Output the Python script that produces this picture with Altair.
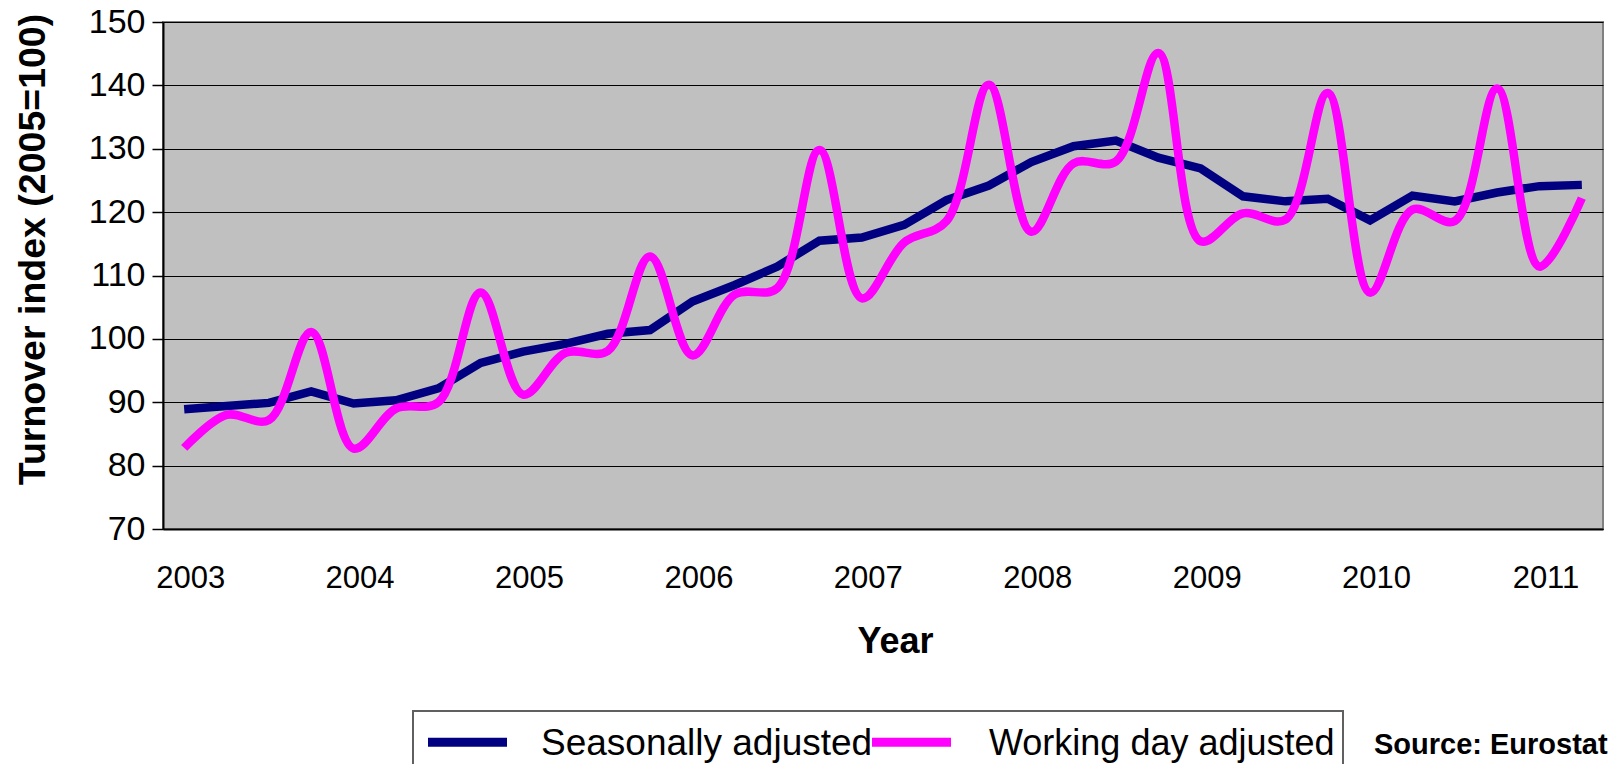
import altair as alt
import pandas as pd

# Quarterly categories, Q1 2003 .. Q2 2011
years = [2003, 2004, 2005, 2006, 2007, 2008, 2009, 2010, 2011]
quarters = [f"{y}Q{q}" for y in years for q in (1, 2, 3, 4)][:34]

seasonally_adjusted = [
    88.9, 89.4, 89.9, 91.7, 89.8, 90.3, 92.2, 96.2, 98.0, 99.2,
    100.8, 101.4, 105.9, 108.5, 111.4, 115.5, 116.0, 118.0, 121.9, 124.2,
    127.9, 130.4, 131.3, 128.6, 126.9, 122.5, 121.7, 122.1, 118.7, 122.6,
    121.7, 123.1, 124.1, 124.3,
]
working_day_adjusted = [
    82.8, 88.0, 87.2, 101.1, 82.7, 89.0, 90.0, 107.3, 91.2, 97.8,
    98.1, 113.0, 97.4, 107.0, 108.0, 129.8, 106.4, 115.2, 118.6, 140.1,
    116.9, 127.7, 128.0, 145.1, 115.4, 119.8, 118.8, 138.8, 107.3, 120.4,
    118.6, 139.5, 111.4, 122.2,
]
series_names = ["Seasonally adjusted", "Working day adjusted"]
series_colors = ["#000080", "#FF00FF"]
y_ticks = [70, 80, 90, 100, 110, 120, 130, 140, 150]
year_ticks = [q for q in quarters if q.endswith("Q1")]
source_text = "Source: Eurostat"

rows = []
for name, vals in zip(series_names, [seasonally_adjusted, working_day_adjusted]):
    for q, v in zip(quarters, vals):
        rows.append({"quarter": q, "series": name, "value": v})
df = pd.DataFrame(rows)

FONT = "Liberation Sans"

x_enc = alt.X(
    "quarter:O",
    sort=quarters,
    scale=alt.Scale(type="point", padding=0.5),
    axis=alt.Axis(
        values=year_ticks,
        labelExpr="slice(datum.label, 0, 4)",
        labelAngle=0,
        labelFontSize=31,
        labelFont=FONT,
        labelColor="black",
        labelBaseline="alphabetic",
        labelPadding=58,
        labelOffset=6,
        ticks=False,
        tickSize=0,
        domain=True,
        domainColor="black",
        domainWidth=2,
        grid=False,
        title="Year",
        titleFont=FONT,
        titleFontSize=36,
        titleFontWeight="bold",
        titleColor="black",
        titleX=732,
        titleY=123,
        titleAlign="center",
        titleBaseline="alphabetic",
        titleAnchor="start",
    ),
)
y_enc = alt.Y(
    "value:Q",
    scale=alt.Scale(domain=[70, 150], nice=False, zero=False),
    axis=alt.Axis(
        values=y_ticks,
        labelFontSize=34,
        labelFont=FONT,
        labelColor="black",
        labelPadding=7,
        tickSize=11,
        tickColor="black",
        tickWidth=1.5,
        domain=True,
        domainColor="black",
        domainWidth=2,
        grid=True,
        gridColor="black",
        gridWidth=1.2,
        title="Turnover index (2005=100)",
        titleFont=FONT,
        titleFontSize=37.5,
        titleFontWeight="bold",
        titleColor="black",
        titleAngle=270,
        titleX=-119,
        titleY=227,
        titleAlign="center",
        titleBaseline="alphabetic",
        titleAnchor="start",
    ),
)
color_enc = alt.Color(
    "series:N",
    scale=alt.Scale(domain=series_names, range=series_colors),
    legend=None,
)

base = alt.Chart(df)
navy = base.transform_filter(alt.datum.series == series_names[0]).mark_line(
    strokeWidth=8.5, interpolate="linear"
).encode(x=x_enc, y=y_enc, color=color_enc)
pink = base.transform_filter(alt.datum.series == series_names[1]).mark_line(
    strokeWidth=8.5, interpolate="catmull-rom"
).encode(x=x_enc, y=y_enc, color=color_enc)

# Legend drawn as a box with swatches and labels below the plot
legend_df = pd.DataFrame({"series": series_names, "color": series_colors})
legend_box = alt.Chart(legend_df.head(1)).mark_rect(
    fill="white", stroke="#606060", strokeWidth=2
).encode(x=alt.value(250), x2=alt.value(1180), y=alt.value(689), y2=alt.value(760))

legend_layers = [legend_box]
swatch_x = [(265, 344), (709, 788)]
label_x = [378, 826]
label_size = [37, 36]
for i, name in enumerate(series_names):
    item = alt.Chart(legend_df).transform_filter(alt.datum.series == name)
    legend_layers.append(
        item.mark_rule(strokeWidth=9).encode(
            x=alt.value(swatch_x[i][0]), x2=alt.value(swatch_x[i][1]),
            y=alt.value(720.3),
            color=alt.Color("color:N", scale=None),
        )
    )
    legend_layers.append(
        item.mark_text(
            font=FONT, fontSize=label_size[i], align="left",
            baseline="alphabetic", color="black"
        ).encode(x=alt.value(label_x[i]), y=alt.value(733), text="series:N")
    )

source_df = pd.DataFrame({"t": [source_text]})
source = alt.Chart(source_df).mark_text(
    font=FONT, fontSize=29, fontWeight="bold", align="left",
    baseline="alphabetic", color="black"
).encode(x=alt.value(1211), y=alt.value(732), text="t:N")

chart = alt.layer(navy, pink, *legend_layers, source).properties(
    width=1440,
    height=507,
    padding={"left": 155, "top": 14, "right": 13, "bottom": 235},
    autosize=alt.AutoSizeParams(type="none"),
    background="white",
).configure_view(
    fill="#C0C0C0", stroke="#808080", strokeWidth=2
)

chart.save("out.html", embed_options={"renderer": "svg", "actions": False})
